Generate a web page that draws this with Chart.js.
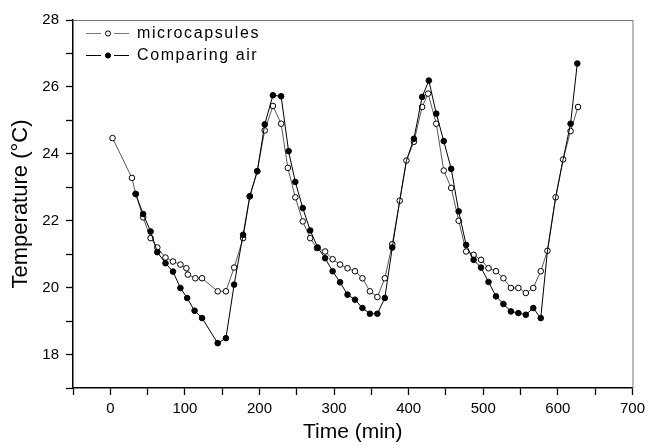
<!DOCTYPE html>
<html>
<head>
<meta charset="utf-8">
<script src="https://cdn.jsdelivr.net/npm/chart.js@4.4.1/dist/chart.umd.min.js"></script>
<style>
  html, body { margin: 0; padding: 0; background: #fff; }
  #wrap { width: 650px; height: 446px; position: relative; }
</style>
</head>
<body>
<div id="wrap"><canvas id="c" width="650" height="446"></canvas></div>
<script>
// ---- data ----
const seriesNames = ["microcapsules", "Comparing air"];

const microTime = [3, 29, 34, 44, 54, 63, 74, 84, 94, 102, 104, 114, 123, 144, 155, 166, 178, 187, 197, 207,
  218, 229, 238, 248, 258, 268, 277, 288, 298, 308, 318, 328, 338, 348, 358, 368, 378, 388, 397, 407,
  418, 426, 437, 447, 457, 467, 477, 487, 497, 507, 517, 527, 537, 547, 557, 567, 577, 586, 597, 607,
  617, 627];
const microTemp = [24.47, 23.28, 22.8, 22.1, 21.48, 21.2, 20.9, 20.78, 20.69, 20.58, 20.39, 20.28, 20.28, 19.89, 19.89, 20.6, 21.48, 22.73, 23.48, 24.7,
  25.43, 24.9, 23.58, 22.7, 21.98, 21.48, 21.18, 21.08, 20.85, 20.69, 20.58, 20.49, 20.28, 19.89, 19.72, 20.28, 21.3, 22.6, 23.8, 24.36,
  25.4, 25.8, 24.9, 23.5, 22.98, 22.0, 21.08, 20.98, 20.83, 20.58, 20.49, 20.28, 19.99, 19.99, 19.84, 19.99, 20.49, 21.1, 22.7, 23.83,
  24.68, 25.4];

const airTime = [34, 44, 54, 63, 74, 84, 94, 103, 113, 123, 144, 155, 166, 178, 187, 197, 207, 218, 229, 239,
  248, 258, 268, 278, 288, 298, 308, 318, 328, 338, 348, 358, 368, 378, 388, 397, 407, 418, 427, 437,
  447, 457, 467, 477, 487, 497, 507, 517, 527, 537, 547, 557, 567, 577, 586, 597, 607, 617, 626];
const airTemp = [22.8, 22.2, 21.68, 21.06, 20.73, 20.48, 19.99, 19.69, 19.31, 19.09, 18.34, 18.49, 20.09, 21.58, 22.73, 23.48, 24.88, 25.75, 25.72, 24.08,
  23.16, 22.38, 21.71, 21.2, 20.88, 20.49, 20.16, 19.79, 19.64, 19.39, 19.22, 19.22, 19.69, 21.2, 22.6, 23.8, 24.45, 25.7, 26.19, 25.2,
  24.38, 23.55, 22.28, 21.28, 20.83, 20.6, 20.17, 19.74, 19.51, 19.29, 19.24, 19.19, 19.39, 19.09, 21.1, 22.7, 23.83, 24.9, 26.7];
// air readings that sit under a microcapsule marker (no own marker visible)
const airHiddenMarkerTimes = [388, 397, 586, 597, 607];

const xTickLabels = [0, 100, 200, 300, 400, 500, 600, 700];
const yTickLabels = [18, 20, 22, 24, 26, 28];
const xTitle = "Time (min)";
const yTitle = "Temperature (\u00B0C)";

// ---- build ----
const toPts = (xs, ys) => xs.map((x, i) => ({ x: x, y: ys[i] }));
const FONT = "'Liberation Sans', Arial, sans-serif";

const legendPlugin = {
  id: 'innerLegend',
  afterDraw(chart) {
    const ctx = chart.ctx;
    ctx.save();
    const a = chart.chartArea;
    ctx.strokeStyle = '#777';
    ctx.lineWidth = 1;
    ctx.beginPath();
    ctx.moveTo(a.left, a.top + 0.5);
    ctx.lineTo(a.right + 0.5, a.top + 0.5);
    ctx.lineTo(a.right + 0.5, a.bottom);
    ctx.stroke();

    const rows = [
      { name: seriesNames[0], y: 33, fill: '#fff', line: '#666', lw: 0.9 },
      { name: seriesNames[1], y: 55, fill: '#000', line: '#000', lw: 1 }
    ];
    rows.forEach(r => {
      ctx.strokeStyle = r.line;
      ctx.lineWidth = r.lw;
      ctx.beginPath();
      ctx.moveTo(86, r.y + 0.5); ctx.lineTo(101, r.y + 0.5);
      ctx.moveTo(114, r.y + 0.5); ctx.lineTo(129, r.y + 0.5);
      ctx.stroke();
      ctx.beginPath();
      ctx.arc(108, r.y + 0.5, 2.6, 0, Math.PI * 2);
      ctx.fillStyle = r.fill;
      ctx.fill();
      ctx.strokeStyle = '#000';
      ctx.lineWidth = 1;
      ctx.stroke();
      ctx.fillStyle = '#000';
      ctx.font = "16px " + FONT;
      if ('letterSpacing' in ctx) ctx.letterSpacing = '1.6px';
      ctx.textBaseline = 'middle';
      ctx.textAlign = 'left';
      ctx.fillText(r.name, 137, r.y + 1);
    });
    ctx.restore();
  }
};

new Chart(document.getElementById('c'), {
  type: 'line',
  data: {
    datasets: [
      {
        label: seriesNames[0],
        data: toPts(microTime, microTemp),
        borderColor: '#444',
        borderWidth: 0.9,
        pointRadius: 2.8,
        pointBackgroundColor: '#fff',
        pointBorderColor: '#000',
        pointBorderWidth: 1,
        tension: 0,
        order: 2
      },
      {
        label: seriesNames[1],
        data: toPts(airTime, airTemp),
        borderColor: '#000',
        borderWidth: 1,
        pointRadius: c => (c.raw && airHiddenMarkerTimes.includes(c.raw.x)) ? 0 : 2.8,
        pointBackgroundColor: '#000',
        pointBorderColor: '#000',
        pointBorderWidth: 1,
        tension: 0,
        order: 1
      }
    ]
  },
  options: {
    responsive: false,
    animation: false,
    devicePixelRatio: 1,
    layout: { padding: { top: 20, right: 11, left: 0, bottom: 0 } },
    plugins: { legend: { display: false }, tooltip: { enabled: false } },
    scales: {
      x: {
        type: 'linear',
        min: -50, max: 700,
        afterBuildTicks(s) {
          const t = [];
          for (let v = -50; v <= 700; v += 50) t.push({ value: v });
          s.ticks = t;
        },
        afterFit(s) { s.height = 58; },
        grid: { display: true, drawOnChartArea: false, drawTicks: true, tickLength: 7, tickWidth: 1.3, tickColor: '#000' },
        border: { display: true, color: '#000', width: 1.5 },
        ticks: {
          color: '#000', font: { family: FONT, size: 15 }, padding: 5, maxRotation: 0, autoSkip: false,
          callback: v => xTickLabels.includes(v) ? String(v) : ''
        },
        title: { display: true, text: xTitle, color: '#000', font: { family: FONT, size: 21 }, padding: { top: 0, bottom: 1 } }
      },
      y: {
        type: 'linear',
        min: 17, max: 28,
        afterBuildTicks(s) {
          const t = [];
          for (let v = 17; v <= 28; v += 1) t.push({ value: v });
          s.ticks = t;
        },
        afterFit(s) { s.width = 73; },
        grid: { display: true, drawOnChartArea: false, drawTicks: true, tickLength: 7, tickWidth: 1.3, tickColor: '#000' },
        border: { display: true, color: '#000', width: 1.5 },
        ticks: {
          color: '#000', font: { family: FONT, size: 15 }, padding: 7, autoSkip: false,
          callback: v => yTickLabels.includes(v) ? String(v) : ''
        },
        title: { display: true, text: yTitle, color: '#000', font: { family: FONT, size: 22 }, padding: { top: 8, bottom: 0 } }
      }
    }
  },
  plugins: [legendPlugin]
});
</script>
</body>
</html>
